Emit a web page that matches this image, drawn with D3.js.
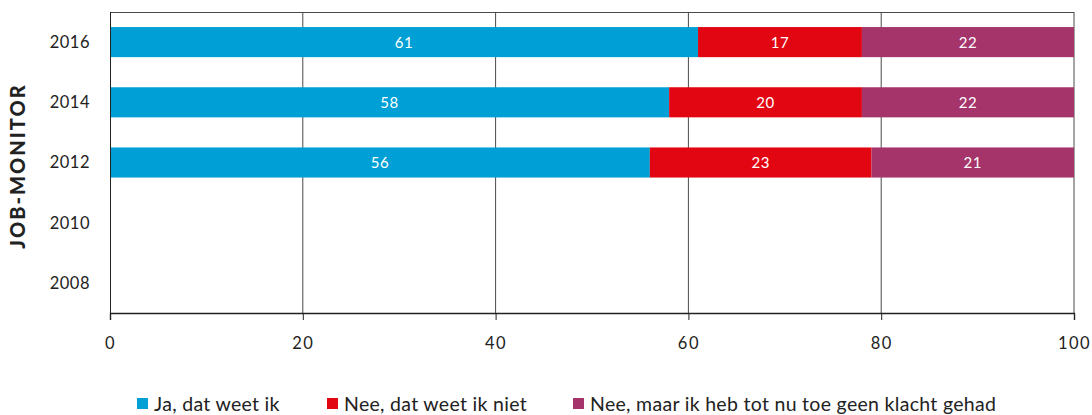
<!DOCTYPE html>
<html>
<head>
<meta charset="utf-8">
<script src="https://cdn.jsdelivr.net/npm/d3@7"></script>
<style>
  html, body { margin: 0; padding: 0; background: #fff; }
  svg { display: block; }
  text { font-family: "Lato", "Open Sans", sans-serif; }
</style>
</head>
<body>
<svg id="chart" width="1092" height="415"></svg>
<script>
// Survey years (top to bottom) and answer shares in percent
const years = ["2016", "2014", "2012", "2010", "2008"];
const seriesNames = ["Ja, dat weet ik", "Nee, dat weet ik niet", "Nee, maar ik heb tot nu toe geen klacht gehad"];
const jaValues = [61, 58, 56, null, null];
const neeValues = [17, 20, 23, null, null];
const geenKlachtValues = [22, 22, 21, null, null];
const xTicks = [0, 20, 40, 60, 80, 100];
const colors = ["#009fd5", "#e20613", "#a4346a"];

const rows = years.map((y, i) => ({
  year: y,
  values: [jaValues[i], neeValues[i], geenKlachtValues[i]]
}));

const svg = d3.select("#chart");
const margin = { left: 110, right: 18, top: 12, bottom: 102 };
const W = 1092, H = 415;

const x = d3.scaleLinear().domain([0, 100]).range([margin.left, W - margin.right]);
const y = d3.scaleBand().domain(years).range([margin.top, H - margin.bottom]).paddingInner(0.5).paddingOuter(0.25);

// Vertical gridlines and frame
svg.append("g")
  .selectAll("line")
  .data(xTicks.slice(1))
  .join("line")
  .attr("x1", d => x(d)).attr("x2", d => x(d))
  .attr("y1", margin.top).attr("y2", H - margin.bottom)
  .attr("stroke", "#4a4a4a").attr("stroke-width", 1);

svg.append("line")
  .attr("x1", x(0)).attr("x2", x(100))
  .attr("y1", margin.top + 0.5).attr("y2", margin.top + 0.5)
  .attr("stroke", "#4a4a4a");

// Stacked bars
const stackData = rows.filter(r => r.values[0] != null).map(r => {
  let acc = 0;
  return r.values.map((v, k) => {
    const seg = { year: r.year, k, v, x0: acc, x1: acc + v };
    acc += v;
    return seg;
  });
}).flat();

const bars = svg.append("g");
bars.selectAll("rect")
  .data(stackData)
  .join("rect")
  .attr("x", d => x(d.x0))
  .attr("width", d => x(d.x1) - x(d.x0))
  .attr("y", d => y(d.year))
  .attr("height", y.bandwidth())
  .attr("fill", d => colors[d.k]);

bars.selectAll("text")
  .data(stackData)
  .join("text")
  .attr("x", d => (x(d.x0) + x(d.x1)) / 2)
  .attr("y", d => y(d.year) + y.bandwidth() / 2)
  .attr("dy", "0.36em")
  .attr("text-anchor", "middle")
  .attr("fill", "#fff")
  .attr("font-size", 15)
  .attr("letter-spacing", "0.5px")
  .text(d => d.v);

// Left axis line
svg.append("line")
  .attr("x1", x(0) + 0.5).attr("x2", x(0) + 0.5)
  .attr("y1", margin.top).attr("y2", H - margin.bottom)
  .attr("stroke", "#222");

// Year labels
svg.append("g")
  .selectAll("text")
  .data(years)
  .join("text")
  .attr("x", 90)
  .attr("y", d => y(d) + y.bandwidth() / 2)
  .attr("dy", "0.36em")
  .attr("text-anchor", "end")
  .attr("fill", "#222")
  .attr("font-size", 16.5)
  .attr("letter-spacing", "0.5px")
  .text(d => d);

// Bottom axis
const xAxis = d3.axisBottom(x).tickValues(xTicks).tickSize(7).tickPadding(17).tickFormat(d3.format("d"));
const gx = svg.append("g")
  .attr("transform", `translate(0,${H - margin.bottom})`)
  .call(xAxis);
gx.select(".domain").attr("stroke", "#222").attr("stroke-width", 1.4);
gx.selectAll(".tick line").attr("stroke", "#222");
gx.selectAll(".tick text")
  .attr("font-family", "Lato, 'Open Sans', sans-serif")
  .attr("font-size", 16.5)
  .attr("fill", "#222")
  .attr("letter-spacing", "1.5px");

// Y axis title
svg.append("text")
  .attr("transform", "translate(25,166) rotate(-90)")
  .attr("text-anchor", "middle")
  .attr("font-weight", 900)
  .attr("font-size", 20)
  .attr("letter-spacing", "2px")
  .attr("fill", "#222")
  .text("JOB-MONITOR");

// Legend
const legendX = [137, 327, 573];
const legend = svg.append("g");
seriesNames.forEach((name, i) => {
  legend.append("rect")
    .attr("x", legendX[i]).attr("y", 398)
    .attr("width", 11).attr("height", 11)
    .attr("fill", colors[i]);
  legend.append("text")
    .attr("x", legendX[i] + 17).attr("y", 411)
    .attr("font-size", 19.5)
    .attr("letter-spacing", "0.3px")
    .attr("fill", "#222")
    .text(name);
});
</script>
</body>
</html>
